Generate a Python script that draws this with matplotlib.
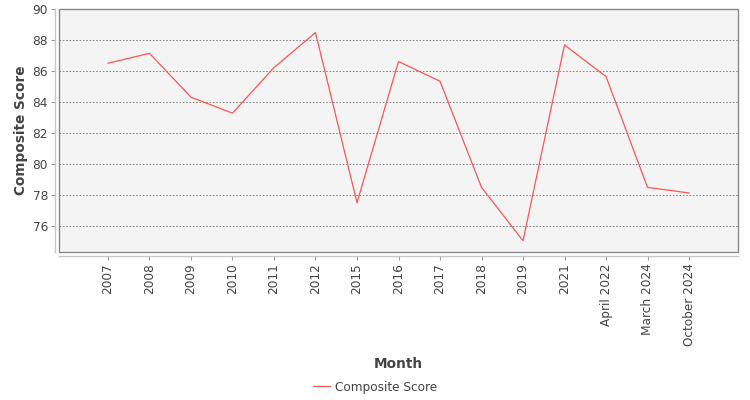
import matplotlib
matplotlib.use("Agg")
import matplotlib.pyplot as plt
from matplotlib.lines import Line2D
from matplotlib.patches import Rectangle

months = ["2007", "2008", "2009", "2010", "2011", "2012", "2015", "2016", "2017",
          "2018", "2019", "2021", "April 2022", "March 2024", "October 2024"]
composite_score = [86.5, 87.14, 84.31, 83.28, 86.22, 88.48, 77.5, 86.61, 85.34,
                   78.49, 75.05, 87.68, 85.64, 78.49, 78.13]
y_ticks = [76, 78, 80, 82, 84, 86, 88, 90]

LINE = "#ff5555"
TXT = "#444444"

plt.rcParams["font.family"] = ["DejaVu Sans"]
fig = plt.figure(figsize=(7.5, 4.0), dpi=100)
W, H = 750, 400
ax = fig.add_axes([59 / W, 1 - 252 / H, 679 / W, 243 / H])
ax.set_facecolor("#f4f4f4")

x = list(range(len(months)))
ax.plot(x, composite_score, color=LINE, lw=0.9)

ax.set_xlim(-1.18, len(months) - 1 + 1.18)
ax.set_ylim(74.32, 90)
ax.set_yticks(y_ticks)
ax.set_xticks(x)
ax.set_xticklabels(months)
ax.grid(axis="y", color="#777777", ls=(0, (2, 2)), lw=0.6)
ax.set_axisbelow(True)

for s in ("top", "right"):
    ax.spines[s].set_visible(False)
for s in ("left", "bottom"):
    ax.spines[s].set_position(("outward", 3))
    ax.spines[s].set_color("#c8c8c8")
    ax.spines[s].set_linewidth(1.0)
ax.add_patch(Rectangle((0, 0), 1, 1, transform=ax.transAxes, fill=False,
                       edgecolor="#888888", lw=1.0, clip_on=False, zorder=5))

ax.tick_params(axis="both", colors="#999999", labelcolor=TXT, labelsize=8.7,
               length=3, width=0.8, pad=2)
ax.tick_params(axis="x", labelrotation=90)
for lab in ax.get_xticklabels():
    lab.set_ha("center")
    lab.set_va("top")

fig.text(21 / W, 1 - 130 / H, "Composite Score", rotation=90, ha="center", va="center",
         fontsize=9.8, fontweight="bold", color=TXT)
fig.text(398 / W, 1 - 364 / H, "Month", ha="center", va="center",
         fontsize=9.8, fontweight="bold", color=TXT)

handle = Line2D([], [], color=LINE, lw=0.9)
fig.legend([handle], ["Composite Score"], loc="center", bbox_to_anchor=(375 / W, 1 - 387 / H),
           frameon=False, fontsize=8.7, handlelength=1.4, handletextpad=0.4,
           labelcolor=TXT)

fig.savefig("out.png", dpi=100)
